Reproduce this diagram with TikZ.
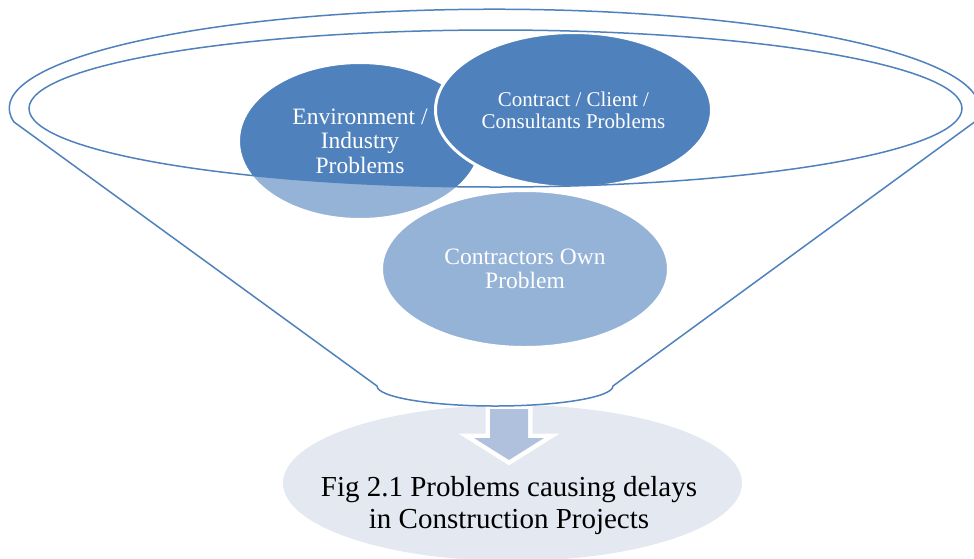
\documentclass[tikz,border=0pt]{standalone}
\usepackage{fontspec}
\setmainfont{Liberation Serif}
\usetikzlibrary{shapes.geometric}

\definecolor{funnelblue}{RGB}{79,129,189}
\definecolor{arrowblue}{RGB}{176,193,222}
\definecolor{resultblue}{RGB}{227,232,241}

\begin{document}
\begin{tikzpicture}[x=1pt, y=-1pt,
  problem/.style={ellipse, fill=funnelblue, draw=white, line width=3pt, inner sep=0pt, text=white, align=center},
  rim/.style={draw=funnelblue, line width=1.5pt}]
\useasboundingbox (0,0) rectangle (974,558);
\node[ellipse, fill=resultblue, minimum width=459pt, minimum height=156pt] (result) at (512.5,483) {};
\node[align=center, font=\fontsize{29}{32}\selectfont] (caption) at (509,506) {Fig 2.1 Problems causing delays\\in Construction Projects};
\path[fill=arrowblue, preaction={draw=white, line width=9pt}] (490,409) -- (528,409) -- (528,438) -- (544,438) -- (509,460) -- (474,438) -- (490,438) -- cycle;
\node[problem, minimum width=243pt, minimum height=157pt, font=\fontsize{23.5}{24.5}\selectfont] (env) at (360,141) {Environment /\\Industry\\Problems};
\node[problem, minimum width=287pt, minimum height=157pt, font=\fontsize{23.5}{24.5}\selectfont] (own) at (525,269) {Contractors Own\\Problem};
\node[problem, minimum width=276pt, minimum height=155pt, font=\fontsize{21}{22}\selectfont] (client) at (573.5,110) {Contract / Client /\\Consultants Problems};
\fill[white, fill opacity=0.4, even odd rule] (14,122) arc[start angle=172, end angle=368, x radius=485, y radius=99] -- (613,386) arc[start angle=0, end angle=180, x radius=118, y radius=20] -- cycle (495.5,108.5) ellipse[x radius=466.5, y radius=78.5];
\draw[rim] (14,122) arc[start angle=172, end angle=368, x radius=485, y radius=99] -- (613,386) arc[start angle=0, end angle=180, x radius=118, y radius=20] -- cycle;
\draw[rim] (495.5,108.5) ellipse[x radius=466.5, y radius=78.5];
\end{tikzpicture}
\end{document}
